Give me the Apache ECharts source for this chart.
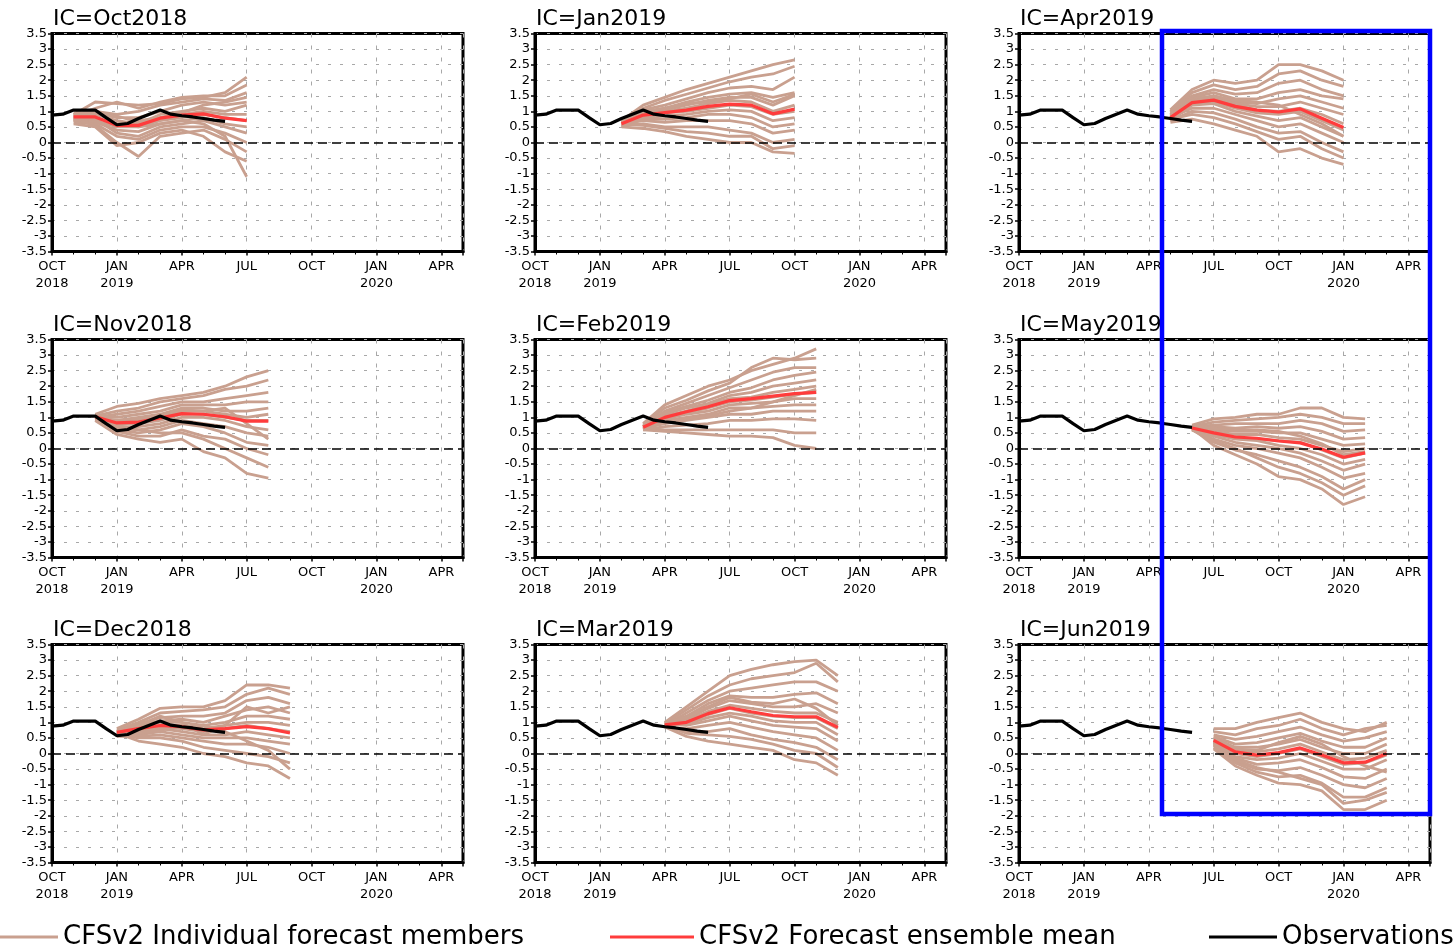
<!DOCTYPE html>
<html>
<head>
<meta charset="utf-8">
<title>CFSv2 forecast plumes</title>
<script src="https://cdn.jsdelivr.net/npm/echarts@6/dist/echarts.min.js"></script>
<style>
  html, body { margin: 0; padding: 0; background: #fff; }
  #chart { width: 1455px; height: 948px; }
</style>
</head>
<body>
<div id="chart"></div>
<script>
// x is a month index: 0 = Oct 2018, 3 = Jan 2019 ... 18 = Apr 2020
const tickMonths = [0, 3, 6, 9, 12, 15, 18];
const tickLabels = ['OCT\n2018', 'JAN\n2019', 'APR', 'JUL', 'OCT', 'JAN\n2020', 'APR'];

// observations (same in every panel)
const obsMonths = [0, 0.5, 1, 1.5, 2, 2.5, 3, 3.5, 4, 4.5, 5, 5.5, 6, 6.5, 7, 7.5, 8];
const obsValues = [0.88, 0.91, 1.04, 1.04, 1.04, 0.8, 0.57, 0.61, 0.77, 0.91, 1.04, 0.91, 0.86, 0.82, 0.77, 0.72, 0.68];

// panels in reading order (row by row)
const panelTitles = ['IC=Oct2018', 'IC=Jan2019', 'IC=Apr2019',
                     'IC=Nov2018', 'IC=Feb2019', 'IC=May2019',
                     'IC=Dec2018', 'IC=Mar2019', 'IC=Jun2019'];
const panelStart = [1, 4, 7, 2, 5, 8, 3, 6, 9];

// ensemble means
const meanOct2018 = [0.82, 0.82, 0.55, 0.55, 0.78, 0.88, 0.92, 0.78, 0.7];
const meanNov2018 = [1.02, 0.82, 0.85, 0.98, 1.12, 1.1, 1.02, 0.88, 0.88];
const meanDec2018 = [0.68, 0.8, 0.9, 0.86, 0.76, 0.8, 0.86, 0.8, 0.66];
const meanJan2019 = [0.6, 0.88, 0.96, 1.04, 1.16, 1.23, 1.2, 0.92, 1.07];
const meanFeb2019 = [0.68, 1.0, 1.18, 1.34, 1.54, 1.6, 1.68, 1.76, 1.8];
const meanMar2019 = [0.92, 1.0, 1.28, 1.47, 1.34, 1.22, 1.18, 1.18, 0.84];
const meanApr2019 = [0.8, 1.28, 1.36, 1.16, 1.04, 0.98, 1.08, 0.78, 0.48];
const meanMay2019 = [0.66, 0.5, 0.37, 0.33, 0.24, 0.18, -0.02, -0.28, -0.14];
const meanJun2019 = [0.42, 0.05, -0.05, 0.03, 0.18, -0.05, -0.3, -0.28, 0.0];

// individual members (estimated from the plumes)
const membersOct2018 = [
  [0.9, 1.3, 1.25, 1.2, 1.25, 1.4, 1.45, 1.6, 2.1],
  [0.85, 1.1, 1.3, 1.1, 1.3, 1.45, 1.5, 1.5, 1.85],
  [0.8, 1.0, 0.9, 1.0, 1.2, 1.3, 1.4, 1.35, 1.6],
  [0.95, 0.95, 0.8, 0.8, 1.0, 1.2, 1.3, 1.2, 1.3],
  [0.85, 0.9, 0.7, 0.6, 0.9, 1.0, 1.1, 1.0, 1.2],
  [0.8, 0.8, 0.6, 0.7, 0.8, 0.9, 1.0, 0.9, 0.9],
  [0.75, 0.7, 0.5, 0.5, 0.7, 0.8, 0.9, 0.8, 0.7],
  [0.7, 0.65, 0.4, 0.35, 0.6, 0.7, 0.8, 0.6, 0.5],
  [0.8, 0.75, 0.3, 0.2, 0.5, 0.6, 0.7, 0.5, 0.3],
  [0.65, 0.6, 0.2, 0.1, 0.4, 0.5, 0.5, 0.3, 0.0],
  [0.75, 0.55, 0.0, -0.45, 0.2, 0.3, 0.4, 0.1, -0.3],
  [0.6, 0.5, -0.1, 0.0, 0.3, 0.4, 0.2, -0.3, -0.6],
  [0.7, 0.8, 0.6, 0.5, 0.6, 0.7, 0.6, 0.2, -1.1],
  [0.9, 1.0, 0.85, 0.65, 0.8, 0.95, 1.2, 1.3, 1.45]
];
const membersNov2018 = [
  [1.1, 1.35, 1.45, 1.6, 1.7, 1.8, 2.0, 2.3, 2.5],
  [1.05, 1.2, 1.3, 1.5, 1.6, 1.7, 1.9, 2.0, 2.2],
  [1.0, 1.1, 1.2, 1.35, 1.5, 1.5, 1.6, 1.7, 1.8],
  [1.05, 1.0, 1.1, 1.2, 1.4, 1.4, 1.4, 1.5, 1.5],
  [1.0, 0.9, 1.0, 1.1, 1.3, 1.3, 1.2, 1.2, 1.3],
  [0.95, 0.85, 0.9, 1.0, 1.2, 1.2, 1.1, 1.0, 1.1],
  [1.0, 0.8, 0.8, 0.9, 1.1, 1.1, 1.0, 0.9, 0.9],
  [0.9, 0.7, 0.7, 0.8, 1.0, 1.0, 0.9, 0.7, 0.6],
  [1.05, 0.65, 0.6, 0.7, 0.9, 0.8, 0.7, 0.5, 0.4],
  [0.95, 0.6, 0.5, 0.6, 0.8, 0.7, 0.5, 0.2, 0.1],
  [1.0, 0.55, 0.4, 0.4, 0.6, 0.4, 0.3, 0.0, -0.2],
  [0.9, 0.45, 0.3, 0.2, 0.3, -0.1, -0.3, -0.8, -0.95],
  [1.05, 0.75, 0.6, 0.5, 0.5, 0.3, 0.0, -0.3, -0.6],
  [1.0, 0.9, 0.95, 1.05, 1.25, 1.2, 1.3, 0.8, 0.3]
];
const membersDec2018 = [
  [0.8, 1.1, 1.45, 1.5, 1.5, 1.7, 2.2, 2.2, 2.1],
  [0.75, 1.0, 1.3, 1.35, 1.4, 1.5, 1.9, 2.1, 1.9],
  [0.7, 0.95, 1.15, 1.2, 1.2, 1.3, 1.7, 1.8, 1.6],
  [0.7, 0.9, 1.05, 1.1, 1.0, 1.2, 1.4, 1.5, 1.3],
  [0.65, 0.85, 1.0, 1.0, 0.9, 1.0, 1.2, 1.2, 1.1],
  [0.7, 0.8, 0.9, 0.9, 0.8, 0.9, 1.0, 1.0, 0.9],
  [0.6, 0.75, 0.85, 0.8, 0.7, 0.8, 0.9, 0.8, 0.7],
  [0.65, 0.7, 0.8, 0.7, 0.6, 0.6, 0.7, 0.6, 0.5],
  [0.7, 0.6, 0.7, 0.6, 0.5, 0.5, 0.5, 0.4, 0.3],
  [0.55, 0.55, 0.6, 0.5, 0.4, 0.3, 0.3, 0.2, 0.0],
  [0.6, 0.5, 0.5, 0.4, 0.2, 0.1, 0.0, -0.1, -0.3],
  [0.65, 0.4, 0.3, 0.2, 0.0, -0.1, -0.3, -0.4, -0.8],
  [0.7, 0.65, 0.75, 0.85, 0.9, 0.7, 0.4, 0.1, -0.5],
  [0.6, 0.9, 1.2, 1.0, 0.6, 0.9, 1.5, 1.3, 1.5]
];
const membersJan2019 = [
  [0.7, 1.2, 1.45, 1.7, 1.9, 2.1, 2.3, 2.5, 2.65],
  [0.65, 1.1, 1.35, 1.55, 1.75, 1.95, 2.1, 2.2, 2.45],
  [0.6, 1.05, 1.2, 1.4, 1.6, 1.75, 1.8, 1.7, 2.1],
  [0.65, 1.0, 1.1, 1.3, 1.45, 1.55, 1.6, 1.45, 1.6],
  [0.55, 0.95, 1.05, 1.2, 1.35, 1.45, 1.45, 1.2, 1.5],
  [0.6, 0.9, 1.0, 1.1, 1.25, 1.35, 1.3, 1.0, 1.2],
  [0.55, 0.85, 0.95, 1.0, 1.1, 1.2, 1.15, 0.9, 1.0],
  [0.6, 0.8, 0.85, 0.9, 1.0, 1.05, 1.0, 0.7, 0.8],
  [0.5, 0.75, 0.75, 0.8, 0.9, 0.9, 0.8, 0.5, 0.6],
  [0.6, 0.7, 0.65, 0.7, 0.7, 0.7, 0.6, 0.3, 0.4],
  [0.55, 0.6, 0.5, 0.5, 0.5, 0.4, 0.3, 0.0, 0.1],
  [0.5, 0.45, 0.35, 0.2, 0.1, 0.0, 0.0, -0.3, -0.35],
  [0.6, 0.55, 0.45, 0.35, 0.3, 0.2, 0.2, -0.2, -0.1],
  [0.65, 0.95, 1.1, 1.25, 1.3, 1.4, 1.55, 1.3, 1.55]
];
const membersFeb2019 = [
  [0.8, 1.4, 1.7, 2.0, 2.2, 2.5, 2.7, 2.9, 3.2],
  [0.75, 1.3, 1.55, 1.85, 2.1, 2.6, 2.9, 2.85, 2.9],
  [0.7, 1.2, 1.45, 1.7, 1.95, 2.2, 2.45, 2.6, 2.6],
  [0.7, 1.15, 1.35, 1.55, 1.8, 1.95, 2.2, 2.35, 2.45],
  [0.65, 1.1, 1.3, 1.45, 1.7, 1.8, 2.0, 2.1, 2.2],
  [0.7, 1.05, 1.2, 1.4, 1.6, 1.65, 1.8, 1.9, 2.0],
  [0.6, 1.0, 1.15, 1.3, 1.5, 1.55, 1.65, 1.75, 1.8],
  [0.65, 0.95, 1.1, 1.2, 1.4, 1.45, 1.5, 1.6, 1.6],
  [0.7, 0.9, 1.0, 1.1, 1.3, 1.3, 1.35, 1.4, 1.4],
  [0.65, 0.8, 0.9, 1.0, 1.1, 1.1, 1.2, 1.2, 1.2],
  [0.6, 0.7, 0.75, 0.8, 0.9, 0.9, 0.95, 0.95, 0.9],
  [0.65, 0.6, 0.6, 0.6, 0.6, 0.6, 0.6, 0.5, 0.5],
  [0.6, 0.55, 0.5, 0.45, 0.4, 0.4, 0.35, 0.1, 0.0],
  [0.7, 0.85, 0.95, 1.05, 1.2, 1.3, 1.5, 1.7, 1.9]
];
const membersMar2019 = [
  [1.0, 1.5, 2.0, 2.5, 2.7, 2.85, 2.95, 3.0, 2.5],
  [0.95, 1.4, 1.85, 2.2, 2.4, 2.5, 2.6, 2.9, 2.3],
  [0.9, 1.3, 1.7, 2.0, 2.1, 2.2, 2.3, 2.3, 2.0],
  [0.95, 1.2, 1.6, 1.85, 1.8, 1.8, 1.9, 1.95, 1.6],
  [0.9, 1.1, 1.45, 1.7, 1.6, 1.5, 1.5, 1.6, 1.3],
  [0.95, 1.05, 1.35, 1.55, 1.45, 1.35, 1.3, 1.3, 1.0],
  [0.85, 1.0, 1.25, 1.45, 1.3, 1.2, 1.15, 1.15, 0.8],
  [0.9, 0.95, 1.15, 1.3, 1.2, 1.05, 1.0, 1.0, 0.6],
  [0.95, 0.9, 1.05, 1.2, 1.05, 0.9, 0.85, 0.8, 0.4],
  [0.85, 0.8, 0.9, 1.0, 0.85, 0.7, 0.6, 0.5, 0.1],
  [0.9, 0.7, 0.7, 0.8, 0.6, 0.45, 0.35, 0.2, -0.2],
  [0.85, 0.55, 0.4, 0.3, 0.2, 0.1, -0.2, -0.3, -0.7],
  [0.9, 0.65, 0.6, 0.55, 0.45, 0.3, 0.1, 0.0, -0.45],
  [1.0, 1.15, 1.5, 1.8, 1.65, 1.6, 1.75, 1.45, 0.9]
];
const membersApr2019 = [
  [1.05, 1.7, 2.0, 1.9, 2.0, 2.5, 2.5, 2.3, 2.0],
  [1.0, 1.6, 1.85, 1.7, 1.8, 2.2, 2.3, 2.0, 1.8],
  [0.95, 1.5, 1.7, 1.55, 1.6, 1.9, 2.0, 1.7, 1.5],
  [0.9, 1.45, 1.6, 1.4, 1.4, 1.6, 1.7, 1.5, 1.4],
  [0.85, 1.4, 1.5, 1.3, 1.25, 1.4, 1.5, 1.3, 1.1],
  [0.8, 1.35, 1.45, 1.25, 1.15, 1.15, 1.3, 1.1, 0.9],
  [0.85, 1.3, 1.4, 1.2, 1.05, 1.0, 1.1, 0.9, 0.6],
  [0.75, 1.25, 1.3, 1.1, 0.95, 0.9, 1.0, 0.7, 0.4],
  [0.7, 1.2, 1.25, 1.0, 0.85, 0.7, 0.8, 0.5, 0.2],
  [0.8, 1.1, 1.1, 0.9, 0.7, 0.5, 0.6, 0.3, 0.0],
  [0.7, 1.0, 0.95, 0.75, 0.5, 0.3, 0.35, 0.0, -0.3],
  [0.65, 0.75, 0.6, 0.4, 0.2, -0.3, -0.2, -0.5, -0.7],
  [0.75, 0.9, 0.8, 0.6, 0.35, 0.1, 0.2, -0.2, -0.5],
  [0.9, 1.3, 1.5, 1.35, 1.3, 1.2, 0.9, 0.6, 0.2]
];
const membersMay2019 = [
  [0.75, 0.95, 1.0, 1.1, 1.1, 1.3, 1.3, 1.0, 0.95],
  [0.7, 0.85, 0.9, 0.95, 1.0, 1.1, 1.0, 0.8, 0.8],
  [0.7, 0.75, 0.8, 0.8, 0.8, 0.9, 0.8, 0.55, 0.6],
  [0.65, 0.7, 0.65, 0.7, 0.65, 0.7, 0.55, 0.3, 0.35],
  [0.7, 0.6, 0.55, 0.55, 0.5, 0.5, 0.3, 0.1, 0.15],
  [0.65, 0.55, 0.45, 0.45, 0.35, 0.3, 0.1, -0.1, 0.0],
  [0.6, 0.5, 0.35, 0.3, 0.25, 0.2, -0.05, -0.3, -0.15],
  [0.65, 0.45, 0.3, 0.25, 0.1, 0.0, -0.2, -0.5, -0.35],
  [0.6, 0.4, 0.2, 0.1, 0.0, -0.15, -0.4, -0.7, -0.5],
  [0.65, 0.3, 0.1, 0.0, -0.15, -0.3, -0.6, -0.95, -0.8],
  [0.6, 0.2, -0.05, -0.2, -0.4, -0.6, -0.9, -1.3, -1.0],
  [0.65, 0.1, -0.2, -0.5, -0.9, -1.0, -1.3, -1.8, -1.55],
  [0.6, 0.25, 0.0, -0.3, -0.6, -0.8, -1.1, -1.5, -1.2],
  [0.7, 0.65, 0.6, 0.6, 0.55, 0.4, 0.15, -0.2, -0.1]
];
const membersJun2019 = [
  [0.8, 0.8, 1.0, 1.15, 1.3, 1.0, 0.8, 0.7, 1.0],
  [0.7, 0.6, 0.8, 0.9, 1.1, 0.8, 0.6, 0.8, 0.9],
  [0.6, 0.45, 0.55, 0.7, 0.85, 0.6, 0.4, 0.5, 0.7],
  [0.55, 0.3, 0.35, 0.5, 0.65, 0.4, 0.2, 0.2, 0.5],
  [0.5, 0.2, 0.2, 0.3, 0.45, 0.2, 0.0, 0.0, 0.3],
  [0.45, 0.1, 0.05, 0.15, 0.3, 0.05, -0.2, -0.15, 0.1],
  [0.4, 0.0, -0.1, 0.0, 0.15, -0.1, -0.35, -0.3, -0.05],
  [0.35, -0.1, -0.2, -0.15, 0.0, -0.25, -0.5, -0.5, -0.2],
  [0.3, -0.15, -0.35, -0.3, -0.2, -0.45, -0.75, -0.8, -0.5],
  [0.25, -0.25, -0.5, -0.55, -0.45, -0.7, -1.0, -1.1, -0.8],
  [0.2, -0.3, -0.6, -0.75, -0.7, -0.95, -1.4, -1.4, -1.1],
  [0.15, -0.4, -0.7, -0.95, -1.0, -1.2, -1.8, -1.8, -1.5],
  [0.3, -0.2, -0.45, -0.6, -0.8, -1.0, -1.6, -1.5, -1.25],
  [0.5, 0.15, 0.1, 0.35, 0.55, 0.3, -0.1, -0.4, -0.6]
];

const panelMeans = [meanOct2018, meanJan2019, meanApr2019,
                    meanNov2018, meanFeb2019, meanMay2019,
                    meanDec2018, meanMar2019, meanJun2019];
const panelMembers = [membersOct2018, membersJan2019, membersApr2019,
                      membersNov2018, membersFeb2019, membersMay2019,
                      membersDec2018, membersMar2019, membersJun2019];

const TAN = '#c9a08f';
const RED = '#ff3c3c';
const MEMBER_NAME = 'CFSv2 Individual forecast members';
const MEAN_NAME = 'CFSv2 Forecast ensemble mean';
const OBS_NAME = 'Observations';

const colLeft = [52, 535, 1019];
const rowTop = [33.5, 339.5, 644.5];
const FONT = 'DejaVu Sans';

const grids = [], xAxes = [], yAxes = [], titles = [], series = [];

panelTitles.forEach((t, i) => {
  const left = colLeft[i % 3], top = rowTop[Math.floor(i / 3)];
  grids.push({ left: left, top: top, width: 411, height: 218, show: true,
               borderColor: '#000', borderWidth: 3, backgroundColor: '#fff' });
  titles.push({ text: t, left: left + 1, top: top - 25, padding: 0,
                textStyle: { fontFamily: FONT, fontSize: 22, fontWeight: 'normal', color: '#000' } });
  xAxes.push({
    type: 'value', gridIndex: i, min: 0, max: 19, interval: 3,
    axisLine: { onZero: false, lineStyle: { color: '#000', width: 3 } },
    axisTick: { length: 4, lineStyle: { color: '#000', width: 1.5 } },
    minorTick: { show: true, splitNumber: 3, length: 3, lineStyle: { color: '#000', width: 1 } },
    splitLine: { show: true, lineStyle: { color: '#a8a8a8', type: [4, 8], width: 1 } },
    axisLabel: {
      margin: 7, fontFamily: FONT, fontSize: 13, lineHeight: 17, color: '#000',
      formatter: v => { const k = tickMonths.indexOf(v); return k >= 0 ? tickLabels[k] : ''; }
    }
  });
  yAxes.push({
    type: 'value', gridIndex: i, min: -3.5, max: 3.5, interval: 0.5,
    axisLine: { onZero: false, lineStyle: { color: '#000', width: 3 } },
    axisTick: { length: 4, lineStyle: { color: '#000', width: 1.5 } },
    splitLine: { show: true, lineStyle: { color: '#a8a8a8', type: [3, 9], width: 1 } },
    axisLabel: { margin: 5, fontFamily: FONT, fontSize: 13, lineHeight: 13, color: '#000' }
  });

  const start = panelStart[i];
  panelMembers[i].forEach(m => {
    series.push({
      type: 'line', name: MEMBER_NAME, xAxisIndex: i, yAxisIndex: i,
      data: m.map((v, k) => [start + k, v]),
      symbol: 'none', color: TAN, lineStyle: { color: TAN, width: 2.8 },
      silent: true, z: 2
    });
  });
  series.push({
    type: 'line', name: MEAN_NAME, xAxisIndex: i, yAxisIndex: i,
    data: panelMeans[i].map((v, k) => [start + k, v]),
    symbol: 'none', color: RED, lineStyle: { color: RED, width: 3.2 },
    silent: true, z: 3
  });
  series.push({
    type: 'line', name: OBS_NAME, xAxisIndex: i, yAxisIndex: i,
    data: obsMonths.map((x, k) => [x, obsValues[k]]),
    symbol: 'none', color: '#000', lineStyle: { color: '#000', width: 3.2 },
    silent: true, z: 4,
    markLine: {
      silent: true, symbol: 'none', label: { show: false },
      lineStyle: { color: '#000', type: [9, 5], width: 1.6 },
      data: [{ yAxis: 0 }]
    }
  });
});

const legendText = { fontFamily: FONT, fontSize: 26, color: '#000', lineHeight: 30 };

const chart = echarts.init(document.getElementById('chart'), null, { renderer: 'canvas' });
chart.setOption({
  animation: false,
  backgroundColor: '#fff',
  title: titles,
  grid: grids,
  xAxis: xAxes,
  yAxis: yAxes,
  legend: [
    { left: 0, top: 922, padding: 0, itemWidth: 58, itemHeight: 3, icon: 'rect',
      selectedMode: false, data: [MEMBER_NAME], textStyle: legendText },
    { left: 610, top: 922, padding: 0, itemWidth: 84, itemHeight: 3, icon: 'rect',
      selectedMode: false, data: [MEAN_NAME], textStyle: legendText },
    { left: 1209, top: 922, padding: 0, itemWidth: 68, itemHeight: 3, icon: 'rect',
      selectedMode: false, data: [OBS_NAME], textStyle: legendText }
  ],
  graphic: [{
    type: 'rect', z: 100, silent: true,
    shape: { x: 1162, y: 31, width: 268, height: 783 },
    style: { fill: 'none', stroke: '#0000ff', lineWidth: 4.5 }
  }],
  series: series
});
</script>
</body>
</html>
